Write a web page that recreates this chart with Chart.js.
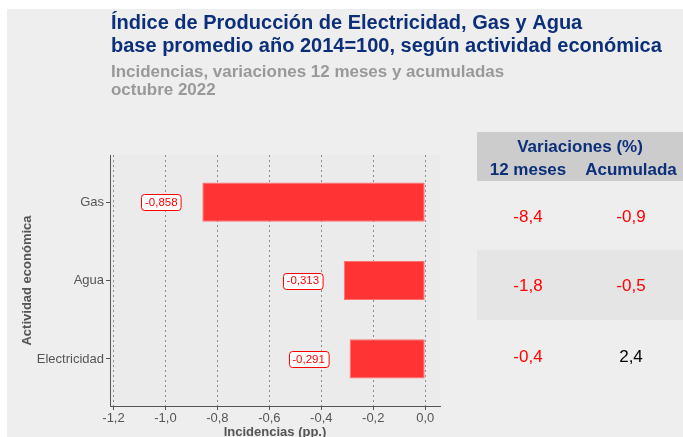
<!DOCTYPE html>
<html>
<head>
<meta charset="utf-8">
<script src="https://cdn.jsdelivr.net/npm/chart.js@4"></script>
<style>
  html, body { margin: 0; padding: 0; background: #ffffff; }
  canvas { display: block; }
</style>
</head>
<body>
<canvas id="myChart" width="683" height="437"></canvas>
<script>
// Data
const actividades = ['Gas', 'Agua', 'Electricidad'];
const incidencias = [-0.858, -0.313, -0.291];
const var12meses = [-8.4, -1.8, -0.4];
const varAcumulada = [-0.9, -0.5, 2.4];
const xTicks = [-1.2, -1.0, -0.8, -0.6, -0.4, -0.2, 0.0];

const titulo = ['Índice de Producción de Electricidad, Gas y Agua',
                'base promedio año 2014=100, según actividad económica'];
const subtitulo = ['Incidencias, variaciones 12 meses y acumuladas', 'octubre 2022'];

const AZUL = '#0c2f7a';
const ROJO = '#ff0000';
const GRIS_TXT = '#555555';
const FUENTE = 'Arial, "Liberation Sans", sans-serif';

const fmt = (v, d) => v.toFixed(d).replace('.', ',');

// page background + plot panel
const fondo = {
    id: 'fondo',
    beforeDraw(chart) {
        const { ctx, chartArea: a } = chart;
        ctx.save();
        ctx.fillStyle = '#ffffff';
        ctx.fillRect(0, 0, chart.width, chart.height);
        ctx.fillStyle = '#eeeeee';
        ctx.fillRect(7, 9, chart.width - 7, chart.height - 9);
        ctx.fillStyle = '#ebebeb';
        ctx.fillRect(a.left, a.top, a.right - a.left, a.bottom - a.top);
        ctx.restore();
    }
};

// boxed value labels next to each bar
const etiquetas = {
    id: 'etiquetas',
    afterDatasetsDraw(chart) {
        const { ctx, scales: { x, y } } = chart;
        ctx.save();
        ctx.font = '11.5px ' + FUENTE;
        ctx.textAlign = 'center';
        ctx.textBaseline = 'middle';
        incidencias.forEach((v, i) => {
            const txt = fmt(v, 3);
            const cx = x.getPixelForValue(v - 0.158);
            const cy = y.getPixelForValue(i + 1);
            const w = ctx.measureText(txt).width + 7;
            const h = 16;
            ctx.beginPath();
            ctx.roundRect(Math.round(cx - w / 2) + 0.5, Math.round(cy - h / 2) + 0.5, w, h, 3);
            ctx.fillStyle = '#ffffff';
            ctx.fill();
            ctx.strokeStyle = ROJO;
            ctx.lineWidth = 1;
            ctx.stroke();
            ctx.fillStyle = ROJO;
            ctx.fillText(txt, cx, cy + 0.5);
        });
        ctx.restore();
    }
};

// text drawn with a horizontal stretch factor
function textoEscalado(ctx, txt, x, y, sx) {
    ctx.save();
    ctx.translate(x, y);
    ctx.scale(sx, 1);
    ctx.fillText(txt, 0, 0);
    ctx.restore();
}

// titles and the side table
const textos = {
    id: 'textos',
    afterDraw(chart) {
        const { ctx } = chart;
        ctx.save();
        ctx.textBaseline = 'alphabetic';
        ctx.textAlign = 'left';
        ctx.fillStyle = AZUL;
        ctx.font = 'bold 20px ' + FUENTE;
        textoEscalado(ctx, titulo[0], 111, 29, 1);
        textoEscalado(ctx, titulo[1], 111, 51.5, 1);
        ctx.fillStyle = '#999999';
        ctx.font = 'bold 16px ' + FUENTE;
        textoEscalado(ctx, subtitulo[0], 111, 76.5, 1.06);
        textoEscalado(ctx, subtitulo[1], 111, 95, 1.06);

        // table
        ctx.fillStyle = '#cccccc';
        ctx.fillRect(477, 132, chart.width - 477, 49);
        ctx.fillStyle = '#e5e5e5';
        ctx.fillRect(477, 250, chart.width - 477, 70);

        ctx.textAlign = 'center';
        ctx.fillStyle = AZUL;
        ctx.font = 'bold 17px ' + FUENTE;
        ctx.fillText('Variaciones (%)', 580, 152);
        ctx.fillText('12 meses', 528, 175);
        ctx.fillText('Acumulada', 631, 175);

        const filas = [217, 286, 357];
        ctx.textBaseline = 'middle';
        ctx.font = '17px ' + FUENTE;
        filas.forEach((fy, i) => {
            ctx.fillStyle = var12meses[i] < 0 ? ROJO : '#000000';
            ctx.fillText(fmt(var12meses[i], 1), 528, fy);
            ctx.fillStyle = varAcumulada[i] < 0 ? ROJO : '#000000';
            ctx.fillText(fmt(varAcumulada[i], 1), 631, fy);
        });
        ctx.restore();
    }
};

const ctx = document.getElementById('myChart').getContext('2d');

new Chart(ctx, {
    type: 'bar',
    data: {
        datasets: [{
            data: incidencias.map((v, i) => ({ x: v, y: i + 1 })),
            backgroundColor: '#ff3333',
            borderColor: '#ff7070',
            borderWidth: 1,
            borderSkipped: false,
            categoryPercentage: 1,
            barPercentage: 0.5
        }]
    },
    options: {
        indexAxis: 'y',
        responsive: false,
        animation: false,
        layout: { padding: { left: 0, right: 243, top: 155, bottom: 0 } },
        plugins: {
            legend: { display: false },
            tooltip: { enabled: false },
            title: { display: false }
        },
        scales: {
            x: {
                type: 'linear',
                min: -1.2135,
                max: 0.057,
                afterBuildTicks: s => { s.ticks = xTicks.map(v => ({ value: v })); },
                afterFit: s => { s.height = 31; },
                ticks: {
                    callback: v => fmt(v, 1),
                    color: GRIS_TXT,
                    font: { family: FUENTE, size: 13 },
                    padding: 1,
                    maxRotation: 0
                },
                grid: {
                    color: '#8c8c8c',
                    lineWidth: 1,
                    tickLength: 4,
                    tickColor: '#555555',
                    tickBorderDash: []
                },
                border: { color: '#555555', width: 1, dash: [2, 3] },
                title: {
                    display: true,
                    text: 'Incidencias (pp.)',
                    color: GRIS_TXT,
                    font: { family: FUENTE, size: 13, weight: 'bold' },
                    padding: { top: 0, bottom: -3 }
                }
            },
            y: {
                type: 'linear',
                reverse: true,
                offset: false,
                min: 0.4,
                max: 3.6,
                afterBuildTicks: s => { s.ticks = actividades.map((a, i) => ({ value: i + 1 })); },
                afterFit: s => { s.width = 110; },
                ticks: {
                    callback: v => actividades[v - 1],
                    color: GRIS_TXT,
                    font: { family: FUENTE, size: 13 },
                    padding: 2
                },
                grid: {
                    offset: false,
                    drawOnChartArea: false,
                    tickLength: 4,
                    tickColor: '#555555'
                },
                border: { color: '#555555', width: 1 },
                title: {
                    display: true,
                    text: 'Actividad económica',
                    color: GRIS_TXT,
                    font: { family: FUENTE, size: 13, weight: 'bold' },
                    padding: { top: 20, bottom: 0 }
                }
            }
        }
    },
    plugins: [fondo, etiquetas, textos]
});
</script>
</body>
</html>
